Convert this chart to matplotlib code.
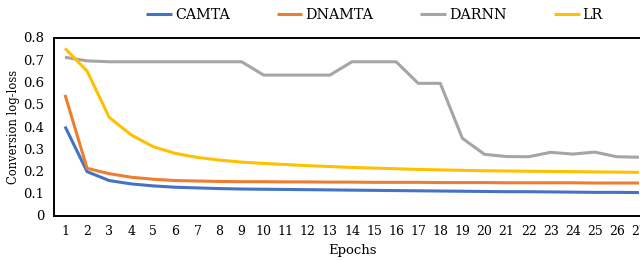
import matplotlib
matplotlib.use("Agg")
import matplotlib.pyplot as plt

epochs = list(range(1, 28))

camta = [0.400, 0.197, 0.157, 0.142, 0.133, 0.127, 0.124, 0.121, 0.119,
         0.118, 0.117, 0.116, 0.115, 0.114, 0.113, 0.112, 0.111, 0.110,
         0.109, 0.108, 0.107, 0.107, 0.106, 0.105, 0.104, 0.104, 0.103]
dnamta = [0.542, 0.212, 0.188, 0.172, 0.163, 0.157, 0.155, 0.153, 0.152,
          0.152, 0.151, 0.151, 0.150, 0.150, 0.149, 0.149, 0.149, 0.148,
          0.148, 0.148, 0.147, 0.147, 0.147, 0.147, 0.146, 0.146, 0.146]
darnn = [0.711, 0.695, 0.691, 0.691, 0.691, 0.691, 0.691, 0.691, 0.691,
         0.631, 0.631, 0.631, 0.631, 0.691, 0.691, 0.691, 0.594, 0.594,
         0.347, 0.275, 0.265, 0.264, 0.284, 0.276, 0.285, 0.264, 0.262]
lr = [0.751, 0.649, 0.441, 0.362, 0.309, 0.279, 0.261, 0.249, 0.240,
      0.234, 0.229, 0.224, 0.220, 0.216, 0.213, 0.210, 0.207, 0.205,
      0.203, 0.201, 0.200, 0.199, 0.198, 0.197, 0.196, 0.195, 0.194]

series = [("CAMTA", camta, "#4472C4"),
          ("DNAMTA", dnamta, "#ED7D31"),
          ("DARNN", darnn, "#A5A5A5"),
          ("LR", lr, "#FFC000")]

yticks = [0, 0.1, 0.2, 0.3, 0.4, 0.5, 0.6, 0.7, 0.8]
ytick_labels = ["0", "0.1", "0.2", "0.3", "0.4", "0.5", "0.6", "0.7", "0.8"]

plt.rcParams['font.family'] = ['DejaVu Serif']

fig = plt.figure(figsize=(6.4, 2.6), dpi=100)
# plot area runs past the right edge of the picture, like the original
ax = fig.add_axes([54/640, 1 - 215.5/260, (650-54)/640, (215.5-37.5)/260])

for name, vals, col in series:
    ax.plot(epochs, vals, color=col, lw=2.2, label=name, solid_capstyle='butt')

ax.set_xlim(0.5, 27.5)
ax.set_ylim(0, 0.8)
ax.set_xticks(epochs)
ax.set_xticklabels([str(e) for e in epochs], fontsize=9)
ax.set_yticks(yticks)
ax.set_yticklabels(ytick_labels, fontsize=9.5)
ax.tick_params(length=0, pad=7)
for s in ax.spines.values():
    s.set_color("black")
    s.set_linewidth(1.4)

ax.set_xlabel("Epochs", fontsize=9.5, labelpad=4)
ax.set_ylabel("Conversion log-loss", fontsize=8.3, labelpad=2)

fig.legend(loc="upper center", bbox_to_anchor=(0.585, 1.02), ncol=4,
           frameon=False, fontsize=10.3, handlelength=1.8, handletextpad=0.2,
           columnspacing=3.3)

fig.savefig("out.png", dpi=100)
